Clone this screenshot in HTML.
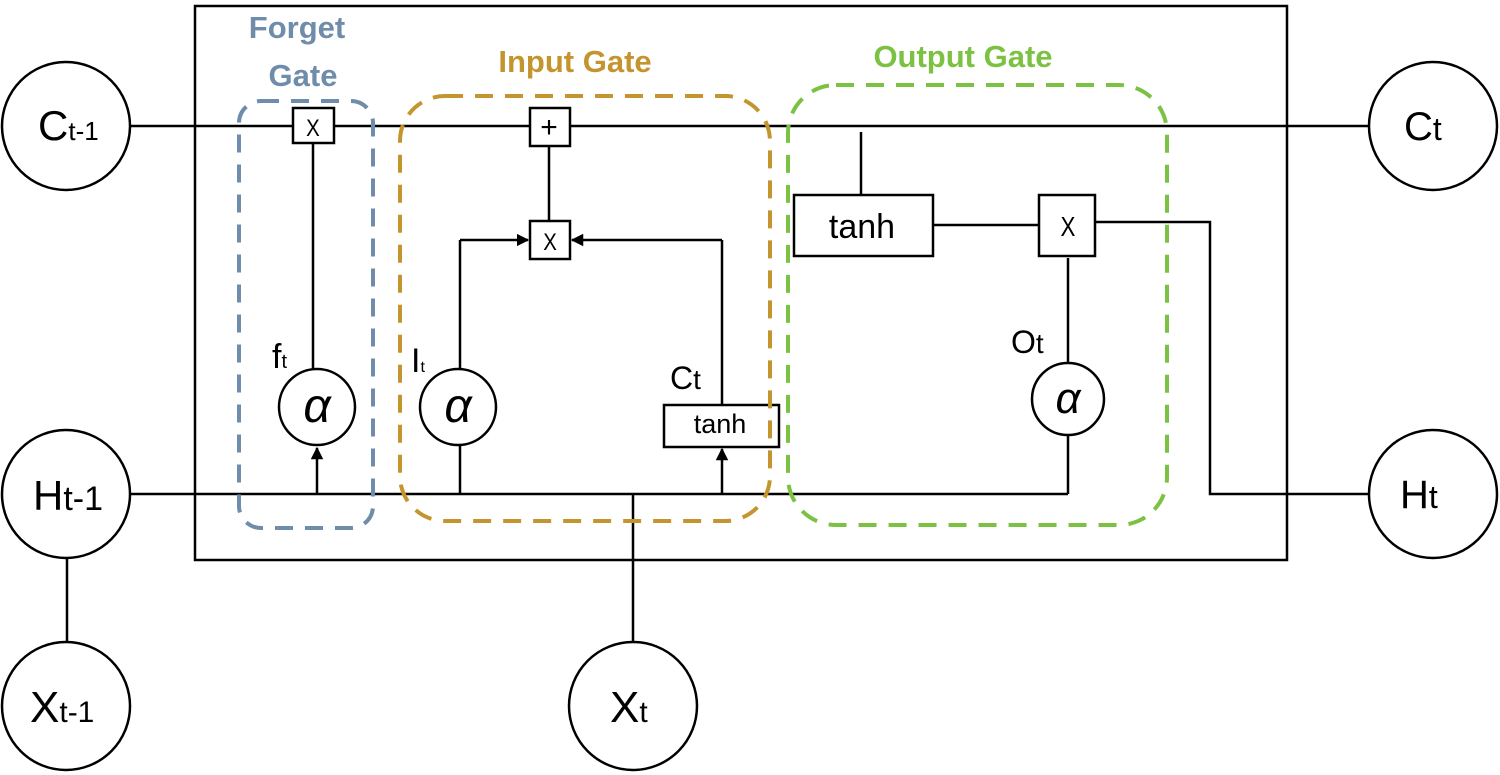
<!DOCTYPE html>
<html><head><meta charset="utf-8"><style>
html,body{margin:0;padding:0;background:#fff;}
svg{display:block;}
text{font-family:"Liberation Sans","DejaVu Sans",sans-serif;}
</style></head><body>
<svg width="1500" height="775" viewBox="0 0 1500 775" xmlns="http://www.w3.org/2000/svg">
<defs>
<marker id="ar" viewBox="0 0 10 10" refX="9" refY="5" markerWidth="5" markerHeight="5" orient="auto"><path d="M0,0 L10,5 L0,10 z" fill="#000"/></marker>
</defs>
<g fill="none" stroke="#000" stroke-width="2.5">
<rect x="195" y="6" width="1092" height="554"/>
<line x1="130" y1="126" x2="1369" y2="126"/>
<line x1="130" y1="494" x2="1068" y2="494"/>
<line x1="67" y1="557" x2="67" y2="643"/>
<line x1="633" y1="494" x2="633" y2="643"/>
<line x1="313" y1="143" x2="313" y2="369"/>
<line x1="317" y1="494" x2="317" y2="448" marker-end="url(#ar)"/>
<line x1="460" y1="369" x2="460" y2="240"/>
<line x1="460" y1="240" x2="528" y2="240" marker-end="url(#ar)"/>
<line x1="460" y1="494" x2="460" y2="445"/>
<line x1="722" y1="405" x2="722" y2="240"/>
<line x1="722" y1="240" x2="572" y2="240" marker-end="url(#ar)"/>
<line x1="722" y1="494" x2="722" y2="449" marker-end="url(#ar)"/>
<line x1="549" y1="146" x2="549" y2="221"/>
<line x1="861" y1="132" x2="861" y2="195"/>
<line x1="933" y1="225" x2="1039" y2="225"/>
<polyline points="1095,222 1210,222 1210,494 1369,494"/>
<line x1="1068" y1="258" x2="1068" y2="363"/>
<line x1="1068" y1="435" x2="1068" y2="494"/>
</g>
<g fill="#fff" stroke="#000" stroke-width="2.5">
<circle cx="66" cy="126" r="64"/>
<circle cx="66" cy="494" r="64"/>
<circle cx="66" cy="706" r="64"/>
<circle cx="633" cy="706" r="64"/>
<circle cx="1433" cy="126" r="64"/>
<circle cx="1433" cy="494" r="64"/>
<rect x="293" y="108" width="41" height="35"/>
<rect x="530" y="108" width="40" height="38"/>
<rect x="530" y="221" width="40" height="38"/>
<circle cx="317" cy="407" r="38"/>
<circle cx="458" cy="407" r="38"/>
<circle cx="1068" cy="399" r="36"/>
<rect x="664" y="405" width="115" height="42"/>
<rect x="794" y="195" width="139" height="61"/>
<rect x="1039" y="195" width="56" height="61"/>
</g>
<g fill="none" stroke-width="4" stroke-dasharray="18,12">
<rect x="239" y="101" width="134" height="427" rx="22" stroke="#6f8cab"/>
<rect x="400" y="96" width="370" height="425" rx="45" stroke="#c4952f"/>
<rect x="788" y="85" width="379" height="440" rx="48" stroke="#7cc242"/>
</g>
<g font-weight="bold" font-size="31">
<text x="297" y="38" text-anchor="middle" fill="#6f8cab">Forget</text>
<text x="303" y="86" text-anchor="middle" fill="#6f8cab">Gate</text>
<text x="575" y="72" text-anchor="middle" fill="#c4952f">Input Gate</text>
<text x="963" y="67" text-anchor="middle" fill="#7cc242">Output Gate</text>
</g>
<g fill="#000" text-anchor="middle">
<text x="313" y="136" font-size="24" transform="translate(313 0) scale(0.85 1) translate(-313 0)">X</text>
<text x="549" y="137" font-size="30">+</text>
<text x="550" y="250" font-size="24" transform="translate(550 0) scale(0.85 1) translate(-550 0)">X</text>
<text x="1068" y="236" font-size="28" transform="translate(1068 0) scale(0.8 1) translate(-1068 0)">X</text>
<text x="862" y="238" font-size="34">tanh</text>
<text x="720" y="433" font-size="27">tanh</text>
<text x="317" y="422" font-size="48" font-style="italic" font-family="Liberation Serif,serif">α</text>
<text x="458" y="422" font-size="48" font-style="italic" font-family="Liberation Serif,serif">α</text>
<text x="1068" y="413" font-size="44" font-style="italic" font-family="Liberation Serif,serif">α</text>
</g>
<g fill="#000">
<text x="38" y="140" font-size="42">C<tspan font-size="26">t-1</tspan></text>
<text x="33" y="510" font-size="42">H<tspan font-size="34">t-1</tspan></text>
<text x="30" y="722" font-size="44">X<tspan font-size="30">t-1</tspan></text>
<text x="610" y="722" font-size="44">X<tspan font-size="30">t</tspan></text>
<text x="1404" y="140" font-size="40">C<tspan font-size="32">t</tspan></text>
<text x="1400" y="508" font-size="40">H<tspan font-size="32">t</tspan></text>
<text x="272" y="368" font-size="34">f<tspan font-size="20">t</tspan></text>
<text x="411" y="372" font-size="34">I<tspan font-size="16">t</tspan></text>
<text x="670" y="389" font-size="32">C<tspan font-size="28">t</tspan></text>
<text x="1011" y="353" font-size="32">O<tspan font-size="28">t</tspan></text>
</g>
</svg>
</body></html>
